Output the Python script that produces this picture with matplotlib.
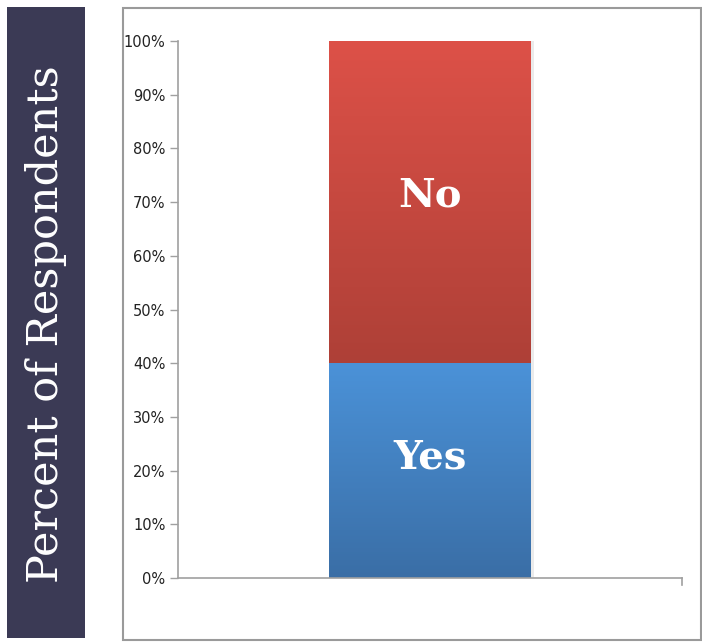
import matplotlib
matplotlib.use("Agg")
import numpy as np
from matplotlib import pyplot as plt
from matplotlib.colors import LinearSegmentedColormap
from matplotlib.patches import Rectangle
from matplotlib.ticker import FuncFormatter, MultipleLocator

# Survey answer shares (percent of respondents)
answers = ["Yes", "No"]
shares = [40, 60]
# top/bottom gradient colours for each segment
segment_colors = {
    "Yes": ("#4b92d8", "#3a6ea6"),
    "No": ("#dd5148", "#ae4037"),
}
label_pos = {"Yes": 0.56, "No": 0.52}

fig = plt.figure(figsize=(7.02, 6.43), dpi=100)

# dark side panel holding the axis title
panel = Rectangle((7 / 702, 5 / 643), 78 / 702, 631 / 643, transform=fig.transFigure,
                  facecolor="#3b3a55", edgecolor="none", zorder=-2)
fig.patches.append(panel)
fig.text(46 / 702, 0.496, "Percent of Respondents", rotation=90, color="white",
         fontsize=31, family="DejaVu Serif", ha="center", va="center")

# chart frame
frame = Rectangle((122.5 / 702, 3 / 643), 578 / 702, 632 / 643, transform=fig.transFigure,
                  facecolor="white", edgecolor="#9a9a9a", linewidth=1.5, zorder=-2)
fig.patches.append(frame)

ax = fig.add_axes([178 / 702, 65 / 643, 504 / 702, 537 / 643])
ax.set_zorder(1)

bottom = 0
for name, value in zip(answers, shares):
    top_c, bot_c = segment_colors[name]
    # soft shadow on the right edge
    ax.bar(0.5 + 0.006, value, width=0.4, bottom=bottom, color="#000000", alpha=0.08,
           linewidth=0, zorder=1)
    bar = ax.bar(0.5, value, width=0.4, bottom=bottom, color="none", linewidth=0, zorder=2)[0]
    cmap = LinearSegmentedColormap.from_list(name, [bot_c, top_c])
    grad = np.linspace(0, 1, 256).reshape(-1, 1)
    im = ax.imshow(grad, cmap=cmap, aspect="auto", origin="lower", zorder=2,
                   extent=[0.3, 0.7, bottom, bottom + value])
    im.set_clip_path(bar)
    ax.text(0.5, bottom + value * label_pos[name], name, color="white", fontsize=29,
            fontweight="bold", family="DejaVu Serif", ha="center", va="center", zorder=3)
    bottom += value

ax.set_xlim(0, 1)
ax.set_ylim(0, 100)

ax.yaxis.set_major_locator(MultipleLocator(10))
ax.yaxis.set_major_formatter(FuncFormatter(lambda v, _: f"{v:.0f}%"))
ax.set_xticks([])
for side in ["top", "right"]:
    ax.spines[side].set_visible(False)
for side in ["left", "bottom"]:
    ax.spines[side].set_color("#a0a0a0")
    ax.spines[side].set_linewidth(1.2)
ax.tick_params(axis="y", length=6, width=1.0, color="#a0a0a0", labelsize=10.5,
               labelcolor="#222222", pad=3)
for lbl in ax.get_yticklabels():
    lbl.set_family(["Liberation Sans Narrow", "DejaVu Sans"])
# end tick on the category axis
ax.plot([1, 1], [0, -1.3], color="#a0a0a0", lw=1.2, clip_on=False)
ax.patch.set_alpha(0)

fig.savefig("out.png", dpi=100)
